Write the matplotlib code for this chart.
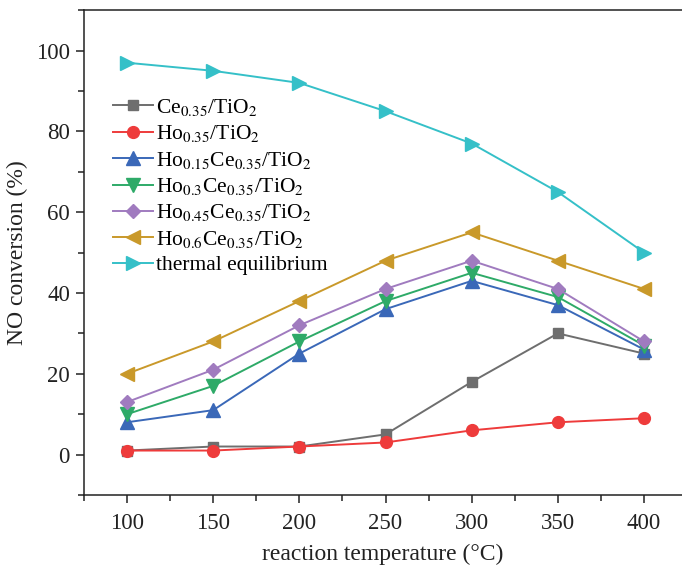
import numpy as np
import matplotlib
matplotlib.use('Agg')
import matplotlib.pyplot as plt
from matplotlib.ticker import MultipleLocator

plt.rcParams['font.family'] = 'Liberation Serif'
plt.rcParams['mathtext.fontset'] = 'stix'

temp = [100, 150, 200, 250, 300, 350, 400]
ce = [1, 2, 2, 5, 18, 30, 25]
ho = [1, 1, 2, 3, 6, 8, 9]
ho15 = [8, 11, 25, 36, 43, 37, 26]
ho30 = [10, 17, 28, 38, 45, 39, 27]
ho45 = [13, 21, 32, 41, 48, 41, 28]
ho60 = [20, 28, 38, 48, 55, 48, 41]
therm = [97, 95, 92, 85, 77, 65, 50]

labels = [r'Ce$_{0.35}$/TiO$_2$', r'Ho$_{0.35}$/TiO$_2$',
          r'Ho$_{0.15}$Ce$_{0.35}$/TiO$_2$', r'Ho$_{0.3}$Ce$_{0.35}$/TiO$_2$',
          r'Ho$_{0.45}$Ce$_{0.35}$/TiO$_2$', r'Ho$_{0.6}$Ce$_{0.35}$/TiO$_2$',
          'thermal equilibrium']
series = [ce, ho, ho15, ho30, ho45, ho60, therm]
colors = ['#6e6e6e', '#ee3b3b', '#3a68b8', '#2eaa68', '#a07bbf', '#c9992a', '#35c0c8']
markers = ['s', 'o', '^', 'v', 'D', '<', '>']
msizes = [7.3, 8.5, 10, 10, 7.2, 9.5, 9.5]

fig = plt.figure(figsize=(6.82, 5.67), dpi=100)
ax = fig.add_axes([0.123, 0.127, 0.877, 0.855])

for y, lab, c, m, ms in zip(series, labels, colors, markers, msizes):
    ax.plot(temp, y, color=c, marker=m, markersize=ms, linewidth=1.4, label=lab)

ax.set_xlim(75, 422)
ax.set_ylim(-10, 110)
ax.xaxis.set_major_locator(MultipleLocator(50))
ax.xaxis.set_minor_locator(MultipleLocator(25))
ax.yaxis.set_major_locator(MultipleLocator(20))
ax.yaxis.set_minor_locator(MultipleLocator(10))
ax.tick_params(which='both', direction='out', labelsize=16.5, width=1.1, colors='#222222')
ax.tick_params(which='major', length=6)
ax.tick_params(axis='x', which='major', pad=7)
ax.tick_params(axis='y', which='major', pad=4)
ax.tick_params(which='minor', length=4)
ax.spines['right'].set_visible(False)
for s in ['left', 'top', 'bottom']:
    ax.spines[s].set_linewidth(1.1)
    ax.spines[s].set_color('#222222')
ax.set_xlabel('reaction temperature (°C)', fontsize=17, color='#222222', labelpad=7)
ax.set_ylabel('NO conversion (%)', fontsize=17, color='#222222', labelpad=6)

ax.legend(loc='upper left', bbox_to_anchor=(0.042, 0.83), frameon=False,
          fontsize=15.5, handlelength=1.85, handletextpad=0.15, labelspacing=0.25,
          borderpad=0.2, borderaxespad=0.0)

fig.savefig('out.png', dpi=100)
